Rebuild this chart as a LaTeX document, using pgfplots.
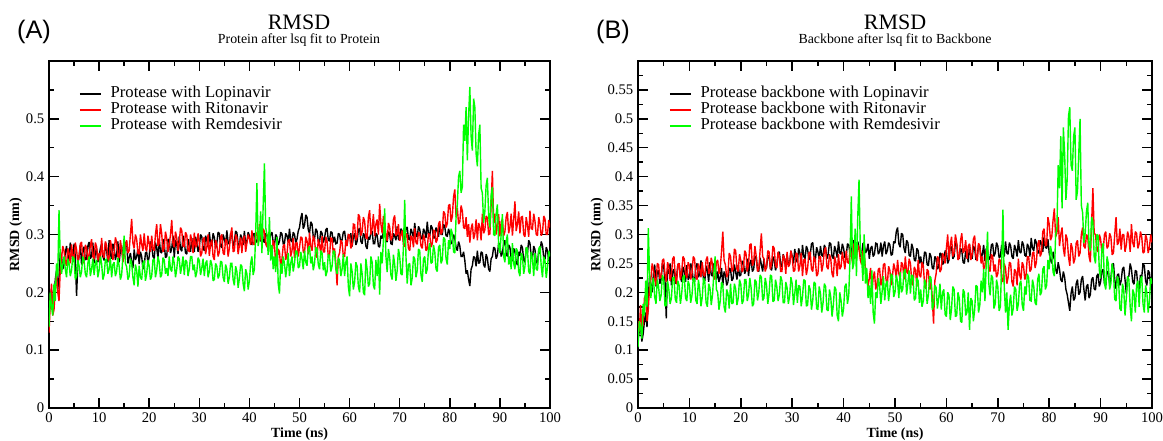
\documentclass[border=0pt]{standalone}
\usepackage{fontspec}
\setmainfont{Liberation Serif}
\newfontfamily\arialfont{Liberation Sans}
\usepackage{pgfplots}
\usepackage{pgfplotstable}
\pgfplotsset{compat=1.18}
\definecolor{xgreen}{RGB}{0,255,0}
\definecolor{xred}{RGB}{255,0,0}

% Panel A: t, Lopinavir, Ritonavir, Remdesivir
\pgfplotstableread{
t L R G
0.0 0.160 0.130 0.140
0.25 0.190 0.180 0.200
0.5 0.205 0.215 0.175
0.75 0.168 0.160 0.160
1.0 0.175 0.170 0.215
1.25 0.222 0.205 0.185
1.5 0.238 0.232 0.250
1.75 0.205 0.200 0.228
2.0 0.226 0.185 0.342
2.25 0.270 0.240 0.260
2.5 0.262 0.258 0.232
2.75 0.240 0.280 0.248
3.0 0.248 0.272 0.262
3.25 0.268 0.252 0.240
3.5 0.280 0.246 0.226
3.75 0.262 0.276 0.258
4.0 0.255 0.268 0.250
4.25 0.286 0.250 0.228
4.5 0.272 0.283 0.238
4.75 0.252 0.262 0.262
5.0 0.284 0.256 0.258
5.25 0.262 0.286 0.222
5.5 0.194 0.274 0.228
5.75 0.248 0.252 0.256
6.0 0.262 0.262 0.246
6.25 0.282 0.284 0.226
6.5 0.248 0.287 0.236
6.75 0.270 0.258 0.262
7.0 0.279 0.250 0.255
7.25 0.256 0.282 0.232
7.5 0.258 0.277 0.226
7.75 0.280 0.256 0.250
8.0 0.287 0.266 0.262
8.25 0.258 0.280 0.228
8.5 0.263 0.292 0.240
8.75 0.286 0.262 0.258
9.0 0.250 0.257 0.230
9.25 0.268 0.286 0.250
9.5 0.276 0.279 0.256
9.75 0.252 0.255 0.226
10.0 0.262 0.268 0.238
10.25 0.276 0.250 0.262
10.5 0.284 0.294 0.250
10.75 0.262 0.266 0.222
11.0 0.255 0.260 0.230
11.25 0.286 0.288 0.256
11.5 0.273 0.281 0.258
11.75 0.252 0.258 0.232
12.0 0.290 0.255 0.240
12.25 0.266 0.290 0.260
12.5 0.258 0.278 0.226
12.75 0.284 0.256 0.248
13.0 0.277 0.268 0.252
13.25 0.256 0.295 0.228
13.5 0.266 0.287 0.236
13.75 0.288 0.262 0.260
14.0 0.252 0.259 0.245
14.25 0.272 0.290 0.222
14.5 0.281 0.275 0.230
14.75 0.258 0.252 0.262
15.0 0.266 0.263 0.298
15.25 0.284 0.282 0.250
15.5 0.288 0.290 0.244
15.75 0.250 0.268 0.222
16.0 0.260 0.272 0.228
16.25 0.268 0.300 0.258
16.5 0.252 0.327 0.250
16.75 0.242 0.285 0.226
17.0 0.274 0.276 0.212
17.25 0.256 0.300 0.248
17.5 0.262 0.292 0.238
17.75 0.275 0.268 0.210
18.0 0.249 0.266 0.246
18.25 0.270 0.300 0.226
18.5 0.262 0.283 0.222
18.75 0.240 0.272 0.250
19.0 0.245 0.302 0.255
19.25 0.268 0.276 0.220
19.5 0.270 0.271 0.232
19.75 0.250 0.298 0.256
20.0 0.262 0.284 0.245
20.25 0.288 0.270 0.222
20.5 0.281 0.298 0.228
20.75 0.262 0.275 0.256
21.0 0.258 0.272 0.258
21.25 0.286 0.300 0.226
21.5 0.276 0.318 0.238
21.75 0.260 0.280 0.262
22.0 0.293 0.285 0.252
22.25 0.270 0.318 0.226
22.5 0.268 0.301 0.230
22.75 0.292 0.270 0.260
23.0 0.284 0.276 0.256
23.25 0.260 0.305 0.232
23.5 0.262 0.293 0.242
23.75 0.292 0.270 0.228
24.0 0.290 0.282 0.262
24.25 0.268 0.300 0.240
24.5 0.276 0.325 0.236
24.75 0.298 0.284 0.262
25.0 0.260 0.278 0.250
25.25 0.290 0.305 0.226
25.5 0.283 0.294 0.240
25.75 0.266 0.272 0.262
26.0 0.297 0.286 0.258
26.25 0.275 0.312 0.232
26.5 0.271 0.307 0.245
26.75 0.298 0.280 0.262
27.0 0.288 0.279 0.230
27.25 0.268 0.304 0.256
27.5 0.266 0.299 0.253
27.75 0.292 0.272 0.228
28.0 0.281 0.271 0.240
28.25 0.270 0.300 0.262
28.5 0.294 0.290 0.262
28.75 0.272 0.268 0.238
29.0 0.270 0.303 0.248
29.25 0.296 0.278 0.226
29.5 0.286 0.281 0.235
29.75 0.270 0.302 0.260
30.0 0.279 0.286 0.255
30.25 0.300 0.262 0.230
30.5 0.296 0.268 0.242
30.75 0.276 0.292 0.258
31.0 0.272 0.295 0.228
31.25 0.298 0.266 0.250
31.5 0.290 0.278 0.255
31.75 0.278 0.300 0.226
32.0 0.304 0.263 0.236
32.25 0.284 0.284 0.256
32.5 0.280 0.291 0.248
32.75 0.302 0.262 0.220
33.0 0.295 0.256 0.222
33.25 0.276 0.290 0.250
33.5 0.285 0.283 0.245
33.75 0.304 0.262 0.224
34.0 0.302 0.270 0.230
34.25 0.280 0.296 0.254
34.5 0.277 0.300 0.252
34.75 0.300 0.268 0.226
35.0 0.292 0.265 0.218
35.25 0.282 0.292 0.248
35.5 0.307 0.289 0.240
35.75 0.286 0.262 0.215
36.0 0.283 0.276 0.226
36.25 0.302 0.300 0.250
36.5 0.297 0.312 0.250
36.75 0.280 0.270 0.222
37.0 0.288 0.272 0.212
37.25 0.306 0.300 0.245
37.5 0.303 0.295 0.236
37.75 0.284 0.266 0.208
38.0 0.280 0.281 0.224
38.25 0.300 0.295 0.248
38.5 0.294 0.268 0.245
38.75 0.282 0.292 0.215
39.0 0.306 0.298 0.202
39.25 0.284 0.270 0.240
39.5 0.287 0.285 0.232
39.75 0.304 0.300 0.205
40.0 0.298 0.293 0.220
40.25 0.284 0.282 0.250
40.5 0.283 0.307 0.262
40.75 0.300 0.284 0.230
41.0 0.302 0.282 0.240
41.25 0.286 0.304 0.300
41.5 0.289 0.300 0.389
41.75 0.304 0.286 0.280
42.0 0.296 0.318 0.295
42.25 0.288 0.292 0.340
42.5 0.310 0.288 0.268
42.75 0.290 0.310 0.350
43.0 0.286 0.305 0.423
43.25 0.302 0.284 0.312
43.5 0.299 0.278 0.300
43.75 0.284 0.300 0.265
44.0 0.291 0.297 0.330
44.25 0.300 0.270 0.255
44.5 0.304 0.262 0.282
44.75 0.286 0.290 0.240
45.0 0.281 0.281 0.262
45.25 0.300 0.252 0.235
45.5 0.296 0.245 0.296
45.75 0.282 0.275 0.215
46.0 0.288 0.270 0.198
46.25 0.304 0.242 0.250
46.5 0.301 0.258 0.232
46.75 0.284 0.280 0.262
47.0 0.285 0.283 0.250
47.25 0.302 0.256 0.226
47.5 0.298 0.266 0.245
47.75 0.286 0.290 0.268
48.0 0.310 0.291 0.228
48.25 0.290 0.262 0.250
48.5 0.287 0.272 0.262
48.75 0.304 0.294 0.236
49.0 0.300 0.259 0.250
49.25 0.286 0.285 0.272
49.5 0.292 0.286 0.270
49.75 0.306 0.262 0.242
50.0 0.312 0.277 0.245
50.25 0.328 0.296 0.270
50.5 0.337 0.294 0.258
50.75 0.310 0.270 0.240
51.0 0.316 0.268 0.272
51.25 0.334 0.296 0.252
51.5 0.330 0.289 0.246
51.75 0.308 0.266 0.276
52.0 0.302 0.303 0.280
52.25 0.322 0.280 0.250
52.5 0.318 0.272 0.262
52.75 0.296 0.298 0.238
53.0 0.292 0.291 0.250
53.25 0.310 0.266 0.278
53.5 0.306 0.260 0.275
53.75 0.288 0.292 0.248
54.0 0.287 0.282 0.240
54.25 0.306 0.268 0.272
54.5 0.302 0.297 0.268
54.75 0.286 0.270 0.238
55.0 0.294 0.270 0.252
55.25 0.308 0.296 0.228
55.5 0.311 0.288 0.236
55.75 0.290 0.262 0.266
56.0 0.289 0.263 0.262
56.25 0.305 0.294 0.236
56.5 0.303 0.293 0.245
56.75 0.286 0.266 0.272
57.0 0.296 0.276 0.270
57.25 0.284 0.250 0.240
57.5 0.285 0.212 0.232
57.75 0.302 0.262 0.260
58.0 0.300 0.268 0.255
58.25 0.286 0.290 0.228
58.5 0.291 0.286 0.240
58.75 0.304 0.262 0.266
59.0 0.306 0.262 0.228
59.25 0.288 0.290 0.252
59.5 0.283 0.280 0.262
59.75 0.300 0.300 0.210
60.0 0.294 0.299 0.193
60.25 0.302 0.276 0.250
60.5 0.279 0.282 0.236
60.75 0.296 0.318 0.205
61.0 0.302 0.317 0.218
61.25 0.282 0.290 0.252
61.5 0.288 0.296 0.245
61.75 0.308 0.335 0.210
62.0 0.311 0.331 0.200
62.25 0.288 0.298 0.250
62.5 0.284 0.305 0.232
62.75 0.302 0.330 0.200
63.0 0.298 0.323 0.195
63.25 0.280 0.295 0.258
63.5 0.275 0.292 0.240
63.75 0.296 0.330 0.210
64.0 0.291 0.342 0.215
64.25 0.304 0.300 0.262
64.5 0.306 0.311 0.252
64.75 0.284 0.335 0.212
65.0 0.284 0.297 0.205
65.25 0.302 0.318 0.256
65.5 0.299 0.326 0.228
65.75 0.280 0.300 0.262
66.0 0.278 0.353 0.196
66.25 0.298 0.318 0.270
66.5 0.293 0.302 0.250
66.75 0.306 0.332 0.290
67.0 0.312 0.319 0.345
67.25 0.290 0.300 0.262
67.5 0.287 0.289 0.235
67.75 0.305 0.320 0.275
68.0 0.301 0.313 0.260
68.25 0.284 0.290 0.230
68.5 0.283 0.295 0.222
68.75 0.302 0.326 0.265
69.0 0.297 0.333 0.248
69.25 0.290 0.298 0.220
69.5 0.314 0.301 0.238
69.75 0.292 0.318 0.275
70.0 0.290 0.289 0.262
70.25 0.310 0.300 0.232
70.5 0.306 0.307 0.230
70.75 0.288 0.282 0.280
71.0 0.294 0.279 0.360
71.25 0.310 0.302 0.262
71.5 0.313 0.299 0.215
71.75 0.292 0.276 0.248
72.0 0.291 0.272 0.250
72.25 0.310 0.298 0.212
72.5 0.303 0.294 0.225
72.75 0.295 0.278 0.262
73.0 0.320 0.311 0.258
73.25 0.298 0.286 0.226
73.5 0.296 0.283 0.238
73.75 0.314 0.304 0.275
74.0 0.309 0.301 0.272
74.25 0.294 0.280 0.230
74.5 0.292 0.276 0.218
74.75 0.310 0.300 0.258
75.0 0.305 0.292 0.262
75.25 0.294 0.272 0.232
75.5 0.322 0.275 0.240
75.75 0.300 0.302 0.275
76.0 0.298 0.299 0.285
76.25 0.316 0.278 0.250
76.5 0.311 0.284 0.252
76.75 0.294 0.308 0.282
77.0 0.294 0.306 0.270
77.25 0.312 0.286 0.240
77.5 0.307 0.291 0.236
77.75 0.296 0.318 0.278
78.0 0.316 0.323 0.282
78.25 0.300 0.300 0.250
78.5 0.300 0.305 0.256
78.75 0.318 0.340 0.295
79.0 0.313 0.336 0.292
79.25 0.298 0.312 0.258
79.5 0.297 0.319 0.248
79.75 0.310 0.350 0.290
80.0 0.302 0.352 0.275
80.25 0.284 0.322 0.310
80.5 0.286 0.331 0.302
80.75 0.300 0.365 0.270
81.0 0.293 0.378 0.268
81.25 0.278 0.330 0.330
81.5 0.272 0.346 0.352
81.75 0.288 0.318 0.400
82.0 0.280 0.322 0.410
82.25 0.262 0.350 0.372
82.5 0.262 0.341 0.382
82.75 0.270 0.312 0.490
83.0 0.255 0.310 0.462
83.25 0.232 0.330 0.520
83.5 0.238 0.296 0.428
83.75 0.222 0.318 0.505
84.0 0.211 0.286 0.555
84.25 0.240 0.310 0.470
84.5 0.246 0.319 0.445
84.75 0.262 0.292 0.535
85.0 0.260 0.301 0.520
85.25 0.245 0.326 0.440
85.5 0.272 0.290 0.418
85.75 0.250 0.320 0.472
86.0 0.252 0.313 0.490
86.25 0.270 0.290 0.380
86.5 0.268 0.336 0.372
86.75 0.248 0.302 0.320
87.0 0.243 0.308 0.340
87.25 0.266 0.332 0.385
87.5 0.259 0.329 0.398
87.75 0.240 0.300 0.332
88.0 0.236 0.301 0.312
88.25 0.258 0.352 0.368
88.5 0.262 0.410 0.382
88.75 0.278 0.320 0.300
89.0 0.276 0.336 0.298
89.25 0.258 0.300 0.335
89.5 0.264 0.318 0.352
89.75 0.285 0.335 0.280
90.0 0.283 0.297 0.268
90.25 0.262 0.322 0.300
90.5 0.268 0.326 0.335
90.75 0.284 0.298 0.262
91.0 0.290 0.305 0.252
91.25 0.266 0.330 0.288
91.5 0.262 0.339 0.300
91.75 0.282 0.302 0.248
92.0 0.278 0.313 0.262
92.25 0.258 0.336 0.240
92.5 0.254 0.298 0.285
92.75 0.276 0.326 0.250
93.0 0.271 0.357 0.240
93.25 0.252 0.306 0.276
93.5 0.247 0.318 0.272
93.75 0.270 0.340 0.236
94.0 0.263 0.302 0.228
94.25 0.282 0.330 0.268
94.5 0.277 0.331 0.262
94.75 0.256 0.300 0.232
95.0 0.252 0.296 0.245
95.25 0.276 0.330 0.278
95.5 0.268 0.316 0.275
95.75 0.290 0.296 0.236
96.0 0.285 0.341 0.232
96.25 0.262 0.310 0.270
96.5 0.259 0.309 0.258
96.75 0.280 0.336 0.228
97.0 0.274 0.323 0.268
97.25 0.252 0.300 0.240
97.5 0.250 0.298 0.238
97.75 0.272 0.330 0.275
98.0 0.267 0.318 0.280
98.25 0.288 0.298 0.245
98.5 0.281 0.303 0.226
98.75 0.260 0.332 0.262
99.0 0.257 0.327 0.255
99.25 0.278 0.300 0.225
99.5 0.272 0.300 0.244
99.75 0.254 0.325 0.272
100.0 0.262 0.312 0.262
}\dataA

% Panel B: t, Lopinavir, Ritonavir, Remdesivir (backbone)
\pgfplotstableread{
t L R G
0.0 0.118 0.150 0.105
0.25 0.132 0.132 0.150
0.5 0.140 0.178 0.140
0.75 0.115 0.135 0.120
1.0 0.128 0.146 0.180
1.25 0.150 0.190 0.160
1.5 0.165 0.195 0.220
1.75 0.140 0.150 0.175
2.0 0.190 0.170 0.311
2.25 0.228 0.210 0.230
2.5 0.215 0.222 0.190
2.75 0.200 0.250 0.215
3.0 0.232 0.240 0.225
3.25 0.248 0.222 0.192
3.5 0.210 0.212 0.180
3.75 0.236 0.250 0.222
4.0 0.238 0.248 0.210
4.25 0.215 0.225 0.185
4.5 0.222 0.226 0.195
4.75 0.250 0.255 0.230
5.0 0.245 0.258 0.222
5.25 0.220 0.232 0.176
5.5 0.155 0.218 0.178
5.75 0.240 0.252 0.220
6.0 0.232 0.244 0.205
6.25 0.250 0.220 0.180
6.5 0.212 0.230 0.190
6.75 0.236 0.258 0.225
7.0 0.240 0.262 0.226
7.25 0.215 0.228 0.188
7.5 0.225 0.214 0.182
7.75 0.248 0.248 0.220
8.0 0.250 0.250 0.212
8.25 0.226 0.222 0.180
8.5 0.218 0.236 0.198
8.75 0.244 0.262 0.226
9.0 0.236 0.258 0.230
9.25 0.218 0.232 0.190
9.5 0.247 0.225 0.185
9.75 0.222 0.252 0.220
10.0 0.226 0.246 0.212
10.25 0.250 0.222 0.182
10.5 0.242 0.232 0.195
10.75 0.220 0.262 0.225
11.0 0.218 0.258 0.222
11.25 0.244 0.228 0.186
11.5 0.250 0.222 0.180
11.75 0.226 0.250 0.222
12.0 0.232 0.240 0.206
12.25 0.255 0.226 0.176
12.5 0.246 0.252 0.192
12.75 0.222 0.230 0.225
13.0 0.220 0.228 0.218
13.25 0.246 0.256 0.182
13.5 0.238 0.262 0.175
13.75 0.218 0.232 0.215
14.0 0.252 0.236 0.208
14.25 0.230 0.260 0.178
14.5 0.228 0.248 0.196
14.75 0.250 0.222 0.232
15.0 0.244 0.226 0.262
15.25 0.222 0.252 0.205
15.5 0.236 0.256 0.200
15.75 0.218 0.232 0.170
16.0 0.226 0.242 0.185
16.25 0.242 0.270 0.218
16.5 0.212 0.305 0.212
16.75 0.236 0.255 0.175
17.0 0.230 0.248 0.165
17.25 0.212 0.226 0.205
17.5 0.218 0.232 0.198
17.75 0.242 0.268 0.172
18.0 0.240 0.262 0.215
18.25 0.220 0.236 0.180
18.5 0.224 0.240 0.182
18.75 0.248 0.275 0.215
19.0 0.235 0.272 0.206
19.25 0.222 0.240 0.178
19.5 0.248 0.236 0.190
19.75 0.228 0.266 0.222
20.0 0.230 0.255 0.214
20.25 0.254 0.235 0.180
20.5 0.252 0.240 0.186
20.75 0.232 0.272 0.222
21.0 0.238 0.268 0.222
21.25 0.258 0.236 0.185
21.5 0.228 0.248 0.196
21.75 0.250 0.282 0.225
22.0 0.256 0.284 0.208
22.25 0.236 0.246 0.176
22.5 0.240 0.252 0.180
22.75 0.262 0.280 0.222
23.0 0.262 0.262 0.218
23.25 0.240 0.236 0.186
23.5 0.236 0.240 0.200
23.75 0.260 0.272 0.230
24.0 0.248 0.302 0.226
24.25 0.236 0.262 0.186
24.5 0.258 0.258 0.190
24.75 0.240 0.236 0.225
25.0 0.242 0.244 0.212
25.25 0.262 0.272 0.180
25.5 0.264 0.270 0.198
25.75 0.242 0.240 0.230
26.0 0.238 0.250 0.228
26.25 0.262 0.280 0.184
26.5 0.255 0.276 0.186
26.75 0.238 0.246 0.222
27.0 0.246 0.242 0.210
27.25 0.268 0.270 0.185
27.5 0.270 0.262 0.196
27.75 0.248 0.236 0.228
28.0 0.244 0.236 0.220
28.25 0.266 0.265 0.182
28.5 0.258 0.258 0.182
28.75 0.242 0.232 0.218
29.0 0.266 0.270 0.208
29.25 0.248 0.244 0.180
29.5 0.250 0.248 0.194
29.75 0.272 0.272 0.226
30.0 0.262 0.260 0.215
30.25 0.250 0.236 0.178
30.5 0.275 0.238 0.198
30.75 0.256 0.268 0.222
31.0 0.252 0.266 0.182
31.25 0.276 0.236 0.212
31.5 0.268 0.246 0.210
31.75 0.250 0.268 0.176
32.0 0.282 0.228 0.192
32.25 0.262 0.256 0.222
32.5 0.258 0.258 0.220
32.75 0.280 0.230 0.176
33.0 0.274 0.242 0.178
33.25 0.256 0.268 0.212
33.5 0.264 0.270 0.205
33.75 0.284 0.240 0.170
34.0 0.286 0.236 0.186
34.25 0.262 0.262 0.218
34.5 0.256 0.255 0.215
34.75 0.278 0.228 0.172
35.0 0.270 0.232 0.170
35.25 0.258 0.262 0.210
35.5 0.280 0.262 0.198
35.75 0.264 0.236 0.165
36.0 0.262 0.248 0.182
36.25 0.282 0.272 0.215
36.5 0.276 0.278 0.210
36.75 0.258 0.244 0.170
37.0 0.266 0.240 0.168
37.25 0.286 0.266 0.205
37.5 0.284 0.258 0.192
37.75 0.262 0.232 0.158
38.0 0.258 0.226 0.178
38.25 0.280 0.262 0.210
38.5 0.272 0.252 0.205
38.75 0.260 0.228 0.160
39.0 0.288 0.266 0.150
39.25 0.268 0.240 0.200
39.5 0.266 0.244 0.186
39.75 0.284 0.270 0.158
40.0 0.276 0.256 0.172
40.25 0.260 0.240 0.210
40.5 0.262 0.272 0.215
40.75 0.284 0.252 0.180
41.0 0.282 0.250 0.195
41.25 0.266 0.276 0.260
41.5 0.268 0.266 0.366
41.75 0.286 0.250 0.240
42.0 0.290 0.284 0.250
42.25 0.268 0.262 0.310
42.5 0.270 0.258 0.228
42.75 0.288 0.282 0.330
43.0 0.278 0.276 0.395
43.25 0.262 0.256 0.275
43.5 0.264 0.248 0.262
43.75 0.284 0.272 0.220
44.0 0.286 0.268 0.300
44.25 0.268 0.240 0.215
44.5 0.272 0.232 0.242
44.75 0.284 0.210 0.190
45.0 0.258 0.224 0.212
45.25 0.276 0.242 0.180
45.5 0.280 0.200 0.238
45.75 0.262 0.225 0.165
46.0 0.266 0.236 0.146
46.25 0.285 0.205 0.200
46.5 0.284 0.215 0.190
46.75 0.266 0.240 0.225
47.0 0.270 0.242 0.212
47.25 0.286 0.212 0.180
47.5 0.262 0.222 0.202
47.75 0.280 0.248 0.228
48.0 0.288 0.250 0.186
48.25 0.266 0.222 0.215
48.5 0.272 0.212 0.220
48.75 0.286 0.245 0.185
49.0 0.282 0.238 0.205
49.25 0.264 0.212 0.232
49.5 0.266 0.228 0.228
49.75 0.288 0.250 0.192
50.0 0.285 0.240 0.200
50.25 0.305 0.225 0.230
50.5 0.312 0.256 0.218
50.75 0.284 0.232 0.190
51.0 0.278 0.224 0.235
51.25 0.302 0.252 0.200
51.5 0.300 0.248 0.205
51.75 0.276 0.222 0.236
52.0 0.268 0.262 0.240
52.25 0.290 0.236 0.196
52.5 0.286 0.232 0.215
52.75 0.264 0.258 0.238
53.0 0.262 0.250 0.198
53.25 0.284 0.220 0.230
53.5 0.276 0.212 0.228
53.75 0.256 0.244 0.186
54.0 0.254 0.238 0.190
54.25 0.276 0.210 0.225
54.5 0.272 0.256 0.220
54.75 0.250 0.230 0.182
55.0 0.262 0.226 0.205
55.25 0.244 0.252 0.175
55.5 0.250 0.246 0.185
55.75 0.270 0.215 0.222
56.0 0.268 0.206 0.215
56.25 0.248 0.240 0.180
56.5 0.246 0.236 0.196
56.75 0.268 0.205 0.228
57.0 0.262 0.222 0.225
57.25 0.242 0.190 0.170
57.5 0.240 0.146 0.178
57.75 0.262 0.220 0.212
58.0 0.258 0.232 0.208
58.25 0.240 0.262 0.172
58.5 0.244 0.258 0.190
58.75 0.268 0.235 0.215
59.0 0.266 0.240 0.170
59.25 0.248 0.268 0.200
59.5 0.252 0.262 0.205
59.75 0.272 0.250 0.162
60.0 0.270 0.276 0.158
60.25 0.250 0.300 0.200
60.5 0.256 0.256 0.195
60.75 0.280 0.282 0.152
61.0 0.278 0.296 0.172
61.25 0.258 0.262 0.210
61.5 0.262 0.268 0.205
61.75 0.286 0.300 0.158
62.0 0.284 0.286 0.160
62.25 0.262 0.256 0.200
62.5 0.258 0.260 0.190
62.75 0.276 0.290 0.150
63.0 0.272 0.302 0.148
63.25 0.252 0.268 0.205
63.5 0.250 0.272 0.200
63.75 0.272 0.290 0.160
64.0 0.268 0.258 0.165
64.25 0.252 0.280 0.200
64.5 0.282 0.284 0.135
64.75 0.262 0.256 0.190
65.0 0.258 0.266 0.185
65.25 0.280 0.292 0.150
65.5 0.276 0.298 0.170
65.75 0.256 0.262 0.212
66.0 0.262 0.254 0.210
66.25 0.282 0.285 0.165
66.5 0.280 0.280 0.178
66.75 0.258 0.250 0.220
67.0 0.266 0.262 0.200
67.25 0.282 0.240 0.240
67.5 0.254 0.246 0.185
67.75 0.276 0.272 0.250
68.0 0.272 0.274 0.305
68.25 0.256 0.240 0.215
68.5 0.260 0.236 0.195
68.75 0.282 0.266 0.230
69.0 0.284 0.262 0.225
69.25 0.262 0.236 0.172
69.5 0.268 0.248 0.180
69.75 0.286 0.226 0.222
70.0 0.280 0.232 0.210
70.25 0.260 0.258 0.168
70.5 0.262 0.255 0.175
70.75 0.282 0.222 0.250
71.0 0.276 0.218 0.343
71.25 0.262 0.250 0.210
71.5 0.288 0.242 0.165
71.75 0.268 0.215 0.200
72.0 0.266 0.226 0.135
72.25 0.286 0.252 0.180
72.5 0.280 0.250 0.196
72.75 0.262 0.218 0.160
73.0 0.258 0.210 0.172
73.25 0.282 0.240 0.210
73.5 0.274 0.236 0.205
73.75 0.262 0.212 0.168
74.0 0.290 0.258 0.180
74.25 0.270 0.230 0.215
74.5 0.268 0.222 0.220
74.75 0.288 0.252 0.178
75.0 0.282 0.246 0.168
75.25 0.264 0.222 0.210
75.5 0.262 0.230 0.196
75.75 0.284 0.262 0.232
76.0 0.278 0.262 0.225
76.25 0.262 0.236 0.186
76.5 0.294 0.240 0.185
76.75 0.276 0.268 0.222
77.0 0.272 0.270 0.210
77.25 0.292 0.242 0.182
77.5 0.286 0.252 0.178
77.75 0.268 0.282 0.222
78.0 0.268 0.290 0.232
78.25 0.290 0.262 0.195
78.5 0.284 0.268 0.200
78.75 0.270 0.305 0.240
79.0 0.296 0.310 0.245
79.25 0.278 0.280 0.205
79.5 0.276 0.282 0.212
79.75 0.292 0.330 0.256
80.0 0.268 0.318 0.240
80.25 0.256 0.290 0.280
80.5 0.250 0.296 0.268
80.75 0.270 0.325 0.235
81.0 0.258 0.345 0.228
81.25 0.240 0.296 0.300
81.5 0.232 0.302 0.310
81.75 0.252 0.330 0.420
82.0 0.240 0.280 0.380
82.25 0.222 0.300 0.470
82.5 0.218 0.312 0.345
82.75 0.236 0.276 0.485
83.0 0.226 0.262 0.440
83.25 0.205 0.300 0.360
83.5 0.196 0.292 0.395
83.75 0.182 0.262 0.505
84.0 0.168 0.246 0.520
84.25 0.198 0.285 0.420
84.5 0.210 0.276 0.410
84.75 0.186 0.250 0.470
85.0 0.190 0.258 0.485
85.25 0.215 0.285 0.360
85.5 0.222 0.290 0.375
85.75 0.196 0.262 0.440
86.0 0.200 0.268 0.500
86.25 0.222 0.300 0.350
86.5 0.228 0.312 0.338
86.75 0.205 0.280 0.285
87.0 0.186 0.276 0.302
87.25 0.210 0.300 0.340
87.5 0.214 0.296 0.355
87.75 0.190 0.262 0.280
88.0 0.196 0.252 0.272
88.25 0.222 0.320 0.330
88.5 0.226 0.380 0.322
88.75 0.206 0.302 0.262
89.0 0.204 0.300 0.250
89.25 0.228 0.275 0.300
89.5 0.232 0.270 0.298
89.75 0.210 0.300 0.238
90.0 0.218 0.292 0.225
90.25 0.236 0.268 0.275
90.5 0.240 0.272 0.285
90.75 0.215 0.300 0.215
91.0 0.212 0.305 0.205
91.25 0.236 0.276 0.262
91.5 0.236 0.280 0.250
91.75 0.214 0.302 0.205
92.0 0.224 0.296 0.215
92.25 0.248 0.265 0.250
92.5 0.250 0.268 0.235
92.75 0.222 0.300 0.188
93.0 0.206 0.330 0.185
93.25 0.230 0.282 0.228
93.5 0.232 0.286 0.220
93.75 0.212 0.310 0.172
94.0 0.220 0.274 0.168
94.25 0.240 0.300 0.215
94.5 0.244 0.300 0.205
94.75 0.222 0.270 0.160
95.0 0.198 0.282 0.190
95.25 0.226 0.305 0.228
95.5 0.228 0.296 0.222
95.75 0.250 0.270 0.175
96.0 0.240 0.318 0.150
96.25 0.218 0.286 0.205
96.5 0.214 0.278 0.198
96.75 0.238 0.305 0.165
97.0 0.236 0.302 0.212
97.25 0.210 0.276 0.220
97.5 0.204 0.284 0.175
97.75 0.230 0.305 0.222
98.0 0.226 0.296 0.228
98.25 0.250 0.268 0.180
98.5 0.246 0.270 0.165
98.75 0.220 0.300 0.212
99.0 0.212 0.292 0.200
99.25 0.238 0.268 0.165
99.5 0.234 0.278 0.185
99.75 0.210 0.300 0.225
100.0 0.224 0.286 0.215
}\dataB

\pgfplotsset{
  rmsd/.style={
    scale only axis,
    height=260.25pt,
    anchor=south west,
    xmin=0, xmax=100, ymin=0, ymax=0.6,
    xtick={0,10,...,100},
    minor xtick={5,15,...,95},
    axis line style={line width=1.4pt},
    tick style={black, line width=1.1pt},
    major tick length=7.5pt,
    minor tick length=4pt,
    tick label style={font=\fontsize{11}{13}\selectfont},
    /pgf/number format/assume math mode=true,
    yticklabel style={/pgf/number format/fixed, /pgf/number format/precision=3},
    xlabel={\textbf{Time (ns)}},
    ylabel={\textbf{RMSD (nm)}},
    label style={font=\fontsize{10.5}{12}\selectfont},
    xlabel style={at={(axis description cs:0.5,0)}, anchor=center, yshift=-19.5pt},
    legend cell align=left,
    legend style={draw=none, fill=none, inner sep=0pt, row sep=0pt,
      font=\fontsize{12.5}{14}\selectfont, anchor=west,
      nodes={inner sep=0pt, text height=8.7pt, text depth=3.3pt}},
    legend image code/.code={\draw[#1, line width=0.9pt] (0pt,0pt) -- (15.75pt,0pt); \path (22.5pt,0pt);},
    every axis plot/.append style={line width=1.05pt, line join=miter, miter limit=2},
  }
}

\begin{document}
\begin{tikzpicture}
\useasboundingbox (0,0) rectangle (872.25pt,330.75pt);

% ---------------- Panel A ----------------
\begin{axis}[rmsd,
  at={(36.75pt,24.75pt)}, width=375.75pt,
  ytick={0,0.1,0.2,0.3,0.4,0.5},
  minor ytick={0.05,0.15,0.25,0.35,0.45,0.55},
  ylabel style={at={(axis description cs:-0.0665,0.5)}, anchor=center},
  legend style={at={(axis description cs:0.06,0.859)}},
]
\addplot[black] table[x=t, y=L] {\dataA};
\addlegendentry{Protease with Lopinavir}
\addplot[xred] table[x=t, y=R] {\dataA};
\addlegendentry{Protease with Ritonavir}
\addplot[xgreen] table[x=t, y=G] {\dataA};
\addlegendentry{Protease with Remdesivir}
\end{axis}

% ---------------- Panel B ----------------
\begin{axis}[rmsd,
  at={(478.5pt,24.75pt)}, width=385.5pt,
  ytick={0,0.05,0.1,0.15,0.2,0.25,0.3,0.35,0.4,0.45,0.5,0.55},
  minor ytick={0.025,0.075,0.125,0.175,0.225,0.275,0.325,0.375,0.425,0.475,0.525,0.575},
  ylabel style={at={(axis description cs:-0.0798,0.5)}, anchor=center},
  legend style={at={(axis description cs:0.0603,0.859)}},
]
\addplot[black] table[x=t, y=L] {\dataB};
\addlegendentry{Protease backbone with Lopinavir}
\addplot[xred] table[x=t, y=R] {\dataB};
\addlegendentry{Protease backbone with Ritonavir}
\addplot[xgreen] table[x=t, y=G] {\dataB};
\addlegendentry{Protease backbone with Remdesivir}
\end{axis}

% titles and panel letters
\node[font=\fontsize{16.5}{19}\selectfont] at (224.25pt,314.25pt) {RMSD};
\node[font=\fontsize{10.4}{12}\selectfont] at (224.25pt,300.75pt) {Protein after lsq fit to Protein};
\node[font=\arialfont\fontsize{19}{22}\selectfont] at (25.5pt,306.75pt) {(A)};

\node[font=\fontsize{16.5}{19}\selectfont] at (671.25pt,314.25pt) {RMSD};
\node[font=\fontsize{10.4}{12}\selectfont] at (671.25pt,300.75pt) {Backbone after lsq fit to Backbone};
\node[font=\arialfont\fontsize{19}{22}\selectfont] at (459.75pt,306.75pt) {(B)};
\end{tikzpicture}
\end{document}
